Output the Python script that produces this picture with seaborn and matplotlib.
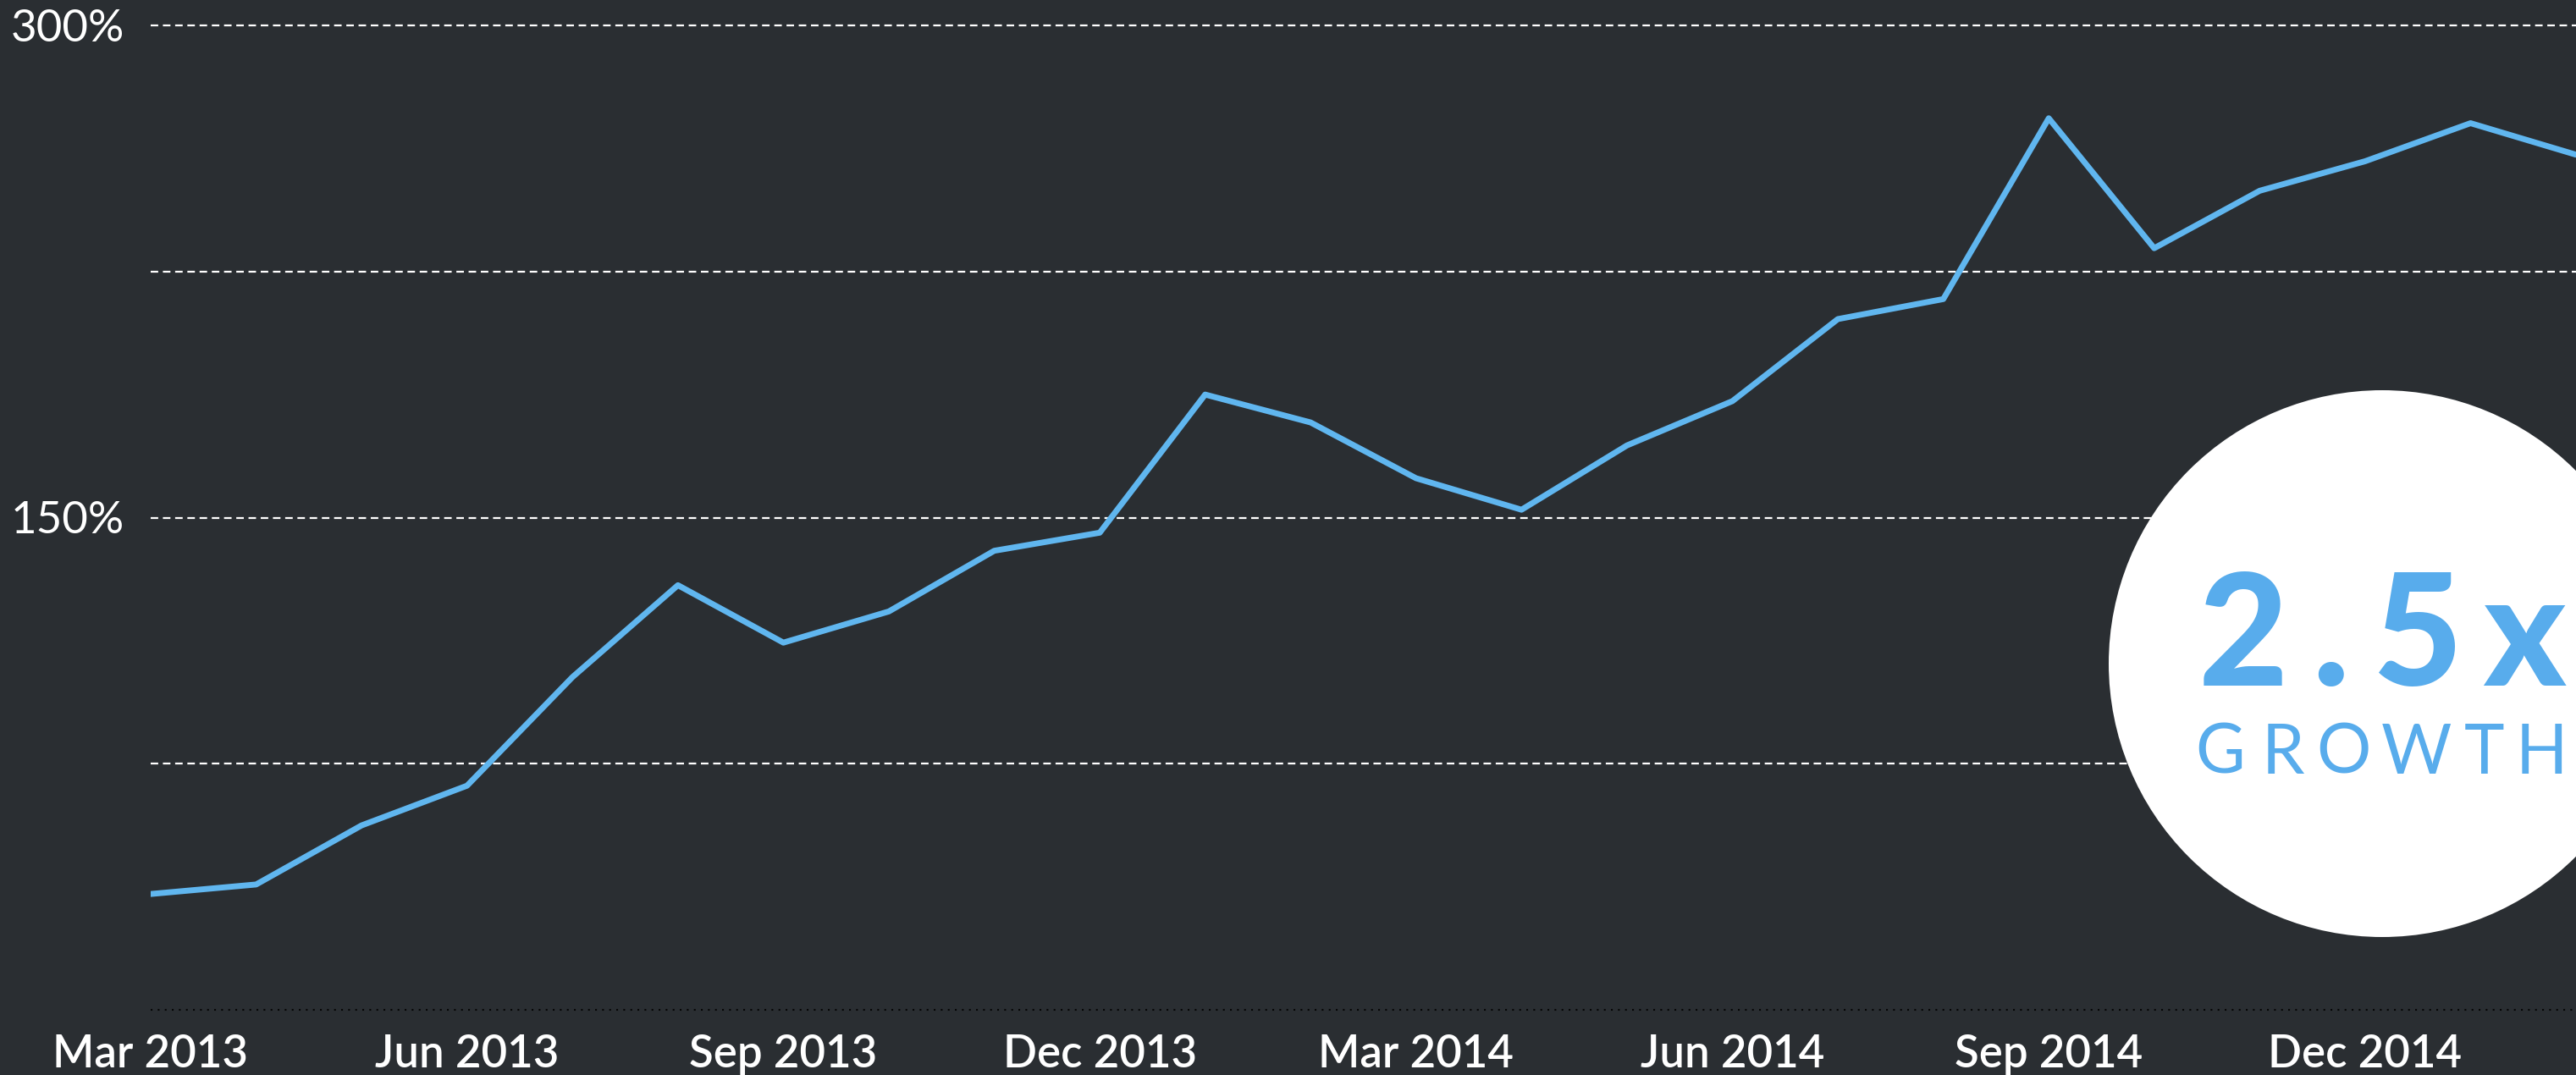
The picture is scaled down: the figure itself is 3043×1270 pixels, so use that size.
import matplotlib
matplotlib.use('Agg')
import matplotlib.pyplot as plt
from matplotlib.patches import Ellipse
import seaborn as sns
import pandas as pd

# data (cumulative growth, %)
months = ['Mar 2013', 'Apr 2013', 'May 2013', 'Jun 2013', 'Jul 2013', 'Aug 2013',
          'Sep 2013', 'Oct 2013', 'Nov 2013', 'Dec 2013', 'Jan 2014', 'Feb 2014',
          'Mar 2014', 'Apr 2014', 'May 2014', 'Jun 2014', 'Jul 2014', 'Aug 2014',
          'Sep 2014', 'Oct 2014', 'Nov 2014', 'Dec 2014', 'Jan 2015', 'Feb 2015']
growth = [35.3, 38.2, 56.2, 68.3, 101.4, 129.4, 111.9, 121.4, 139.9, 145.4, 187.5, 179.0,
          162.0, 152.4, 172.0, 185.5, 210.5, 216.6, 271.7, 232.1, 249.6, 258.6, 270.2, 260.6]
y_ticks = [0, 75, 150, 225, 300]
y_labels = ['', '', '150%', '', '300%']
badge_big = '2.5x'
badge_small = 'GROWTH'

BG = '#2a2e32'
BLUE = '#60b6ef'
BADGE_BLUE = '#58acec'

df = pd.DataFrame({'idx': range(len(months)), 'month': months, 'growth': growth})

sns.set_style('dark')
plt.rcParams['font.family'] = ['Lato', 'DejaVu Sans']

fig = plt.figure(figsize=(30.43, 12.70), dpi=100, facecolor=BG)
ax = fig.add_axes([178 / 3043, 77 / 1270, 1 - 178 / 3043, (1193 - 30) / 1270])
ax.set_facecolor(BG)

# grid lines
for y in y_ticks[1:]:
    ax.axhline(y, color='white', lw=1.6, ls=(0, (4, 2.5)), clip_on=False, zorder=1)
ax.axhline(0, color='#050505', lw=1.5, ls=(0, (1, 3)), clip_on=False, zorder=1)

sns.lineplot(data=df, x='idx', y='growth', ax=ax, color=BLUE, linewidth=5.0, zorder=3)

ax.set_xlim(0, len(months) - 1)
ax.set_ylim(0, 300)
ax.set_xticks(df['idx'][::3])
ax.set_xticklabels(df['month'][::3], fontweight='semibold')
ax.set_yticks(y_ticks)
ax.set_yticklabels(y_labels)
ax.set_xlabel('')
ax.set_ylabel('')
ax.grid(False)
for s in ax.spines.values():
    s.set_visible(False)
ax.tick_params(axis='both', length=0, colors='white', labelsize=38)
ax.tick_params(axis='x', pad=20)
ax.tick_params(axis='y', pad=71)
for lab in ax.get_yticklabels():
    lab.set_horizontalalignment('center')

# white badge
W, H = 3043, 1270
circ = Ellipse((2814 / W, 1 - 784 / H), 2 * 323 / W, 2 * 323 / H,
               transform=fig.transFigure, facecolor='white', edgecolor='none', zorder=5)
fig.patches.append(circ)

for ch, cx in zip(badge_big, [2650, 2753, 2856, 2982]):
    fig.text(cx / W, 1 - 810 / H, ch, color=BADGE_BLUE, fontsize=132, fontweight='black',
             ha='center', va='baseline', zorder=6)
for ch, cx in zip(badge_small, [2623, 2697, 2768, 2854, 2935, 3002]):
    fig.text(cx / W, 1 - 914 / H, ch, color=BADGE_BLUE, fontsize=58, fontweight='normal',
             ha='center', va='baseline', zorder=6)

fig.savefig('out.png', dpi=100, facecolor=BG)
